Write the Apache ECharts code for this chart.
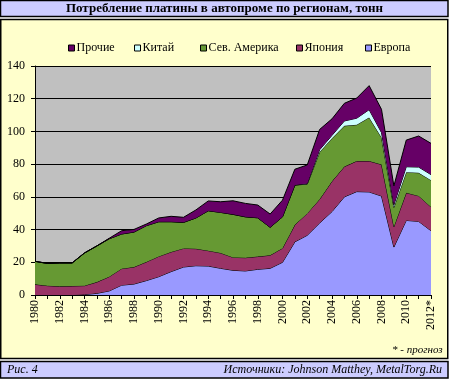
<!DOCTYPE html>
<html>
<head>
<meta charset="utf-8">
<script src="https://cdn.jsdelivr.net/npm/echarts@6/dist/echarts.min.js"></script>
<style>
html,body{margin:0;padding:0;background:#fff;}
#c{width:449px;height:379px;}
</style>
</head>
<body>
<div id="c"></div>
<script>
var years = ['1980','1981','1982','1983','1984','1985','1986','1987','1988','1989','1990','1991','1992','1993','1994','1995','1996','1997','1998','1999','2000','2001','2002','2003','2004','2005','2006','2007','2008','2009','2010','2011','2012*'];
var europe = [0,0,0,0,0.3,1,2.5,6,6.7,8.8,11.2,14.3,17.1,17.9,17.7,16.3,15.1,14.7,15.7,16.3,20,32.5,36.5,44,51,60,63.2,63,60.5,29.3,45.6,45,39.3];
var japan = [6.5,5.7,5.3,5.5,5.4,6.9,8.7,10.1,10.4,11.4,12.4,12,11.4,10.4,9.4,9.4,7.9,8.1,7.8,8,8.6,10.4,13.4,14.5,18.5,18.5,18.7,18.9,19.3,12.5,16.9,15.6,14.5];
var northAmerica = [14.1,13.6,14.3,14.1,20,22.1,23.2,21.2,21.4,22.2,21.2,18.5,15.9,18.8,24.4,24.8,26.3,25,23.7,17.1,19.2,24.3,17.9,28.9,26.3,24.9,22.2,26.6,16.5,11.8,12.6,14.1,16.4];
var china = [0,0,0,0,0,0,0,0,0,0,0,0,0,0,0,0,0,0,0,0,0,0,0.3,1.4,1.8,3,4,4.8,3,1.5,3.3,3.5,3.4];
var others = [0,0,0,0,0,0,0.3,2,1.6,1,2.3,3.3,3.1,4.9,6,6.5,8.3,8.2,7.8,8.1,10.2,9.7,11.4,12.4,10.1,10.8,12.3,14.7,14.2,11.6,16.3,19,19.1];
var yTicks = {min: 0, max: 140, step: 20};

var names = ['Европа','Япония','Сев. Америка','Китай','Прочие'];
var colors = ['#9999FF','#993366','#669933','#CCFFFF','#660066'];
var datas = [europe, japan, northAmerica, china, others];
var FONT = '"Liberation Serif", "Times New Roman", serif';

var series = names.map(function(n, i){
  return {
    name: n, type: 'line', stack: 'total', data: datas[i],
    symbol: 'none', smooth: false,
    itemStyle: {color: colors[i], borderColor: '#000', borderWidth: 1},
    lineStyle: {color: '#000', width: 1},
    areaStyle: {color: colors[i], opacity: 1},
    emphasis: {disabled: true},
    z: 2 + i
  };
});

var legendOrder = ['Прочие','Китай','Сев. Америка','Япония','Европа'];
var legendLeft = [63, 129, 195, 291, 360];
var legends = legendOrder.map(function(n, i){
  return {
    data: [n], left: legendLeft[i], top: 37, orient: 'horizontal',
    icon: 'rect', itemWidth: 6, itemHeight: 6,
    itemStyle: {borderColor: '#000', borderWidth: 1},
    textStyle: {fontFamily: FONT, fontSize: 12, color: '#000', padding: [0,0,0,-3]},
    selectedMode: false
  };
});

var chart = echarts.init(document.getElementById('c'), null, {renderer: 'canvas'});
chart.setOption({
  animation: false,
  backgroundColor: '#fff',
  graphic: [
    {type: 'rect', z: -10, shape: {x: 0.5, y: 0.5, width: 447.5, height: 16}, style: {fill: '#CCCCFF', stroke: '#000', lineWidth: 1.5}},
    {type: 'rect', z: -10, shape: {x: 0.75, y: 19.5, width: 447, height: 339}, style: {fill: '#FFFFCC', stroke: '#000', lineWidth: 1.5}},
    {type: 'rect', z: -10, shape: {x: 0.5, y: 361.5, width: 447.5, height: 16.5}, style: {fill: '#CCCCFF', stroke: '#000', lineWidth: 1.5}},
    {type: 'text', left: 392, top: 345, style: {text: '* - прогноз', font: 'italic 11px ' + FONT, fill: '#000'}},
    {type: 'text', left: 7, top: 364, style: {text: 'Рис. 4', font: 'italic 12px ' + FONT, fill: '#000'}},
    {type: 'text', right: 7, top: 364, style: {text: 'Источники: Johnson Matthey, MetalTorg.Ru', font: 'italic 12px ' + FONT, fill: '#000'}}
  ],
  title: {
    text: 'Потребление платины в автопроме по регионам, тонн',
    left: 'center', top: 1, padding: 0,
    textStyle: {fontFamily: FONT, fontSize: 13, fontWeight: 'bold', color: '#000', lineHeight: 15}
  },
  legend: legends,
  grid: {left: 35, right: 18, top: 66, bottom: 84, show: true, backgroundColor: '#C0C0C0', borderWidth: 0},
  xAxis: {
    type: 'category', data: years, boundaryGap: false,
    axisLine: {lineStyle: {color: '#000', width: 1}},
    axisTick: {show: true, interval: 0, length: 4, lineStyle: {color: '#000'}},
    axisLabel: {interval: 1, rotate: 90, fontFamily: FONT, fontSize: 12, color: '#000', margin: 5},
    splitLine: {show: false}
  },
  yAxis: {
    type: 'value', min: yTicks.min, max: yTicks.max, interval: yTicks.step,
    axisLine: {show: true, lineStyle: {color: '#000', width: 1}},
    axisTick: {show: true, length: 4, lineStyle: {color: '#000'}},
    axisLabel: {fontFamily: FONT, fontSize: 12, color: '#000', margin: 10},
    splitLine: {show: true, lineStyle: {color: '#000', width: 1}}
  },
  series: series
});
</script>
</body>
</html>
